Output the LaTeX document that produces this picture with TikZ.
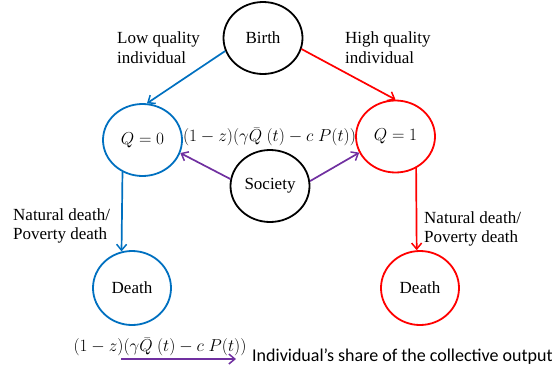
\documentclass[tikz,border=0pt]{standalone}
\usepackage{fontspec}
\setmainfont{Liberation Serif}
\newfontfamily\calib{Carlito}
\usetikzlibrary{shapes.geometric,arrows.meta}
\definecolor{cblue}{RGB}{0,112,192}
\definecolor{cred}{RGB}{255,0,0}
\definecolor{cpurple}{RGB}{112,48,160}
\begin{document}
\begin{tikzpicture}[x=1pt,y=-1pt,
  st/.style={ellipse,draw,line width=1.8pt,minimum width=79pt,minimum height=72pt,inner sep=0pt,font=\fontsize{17}{20}\selectfont},
  lab/.style={anchor=north west,align=left,inner sep=0pt,font=\fontsize{17}{20}\selectfont},
  conn/.style={line width=1.7pt,-{Straight Barb[length=6pt,width=10pt,line width=1.5pt]}},
  mth/.style={inner sep=0pt,font=\fontsize{17.5}{20}\selectfont}]
\useasboundingbox (0,0) rectangle (552,370);
\node[st,draw=black] (birth) at (263,38) {Birth};
\node[st,draw=cblue] (q0) at (142.5,140) {$Q=0$};
\node[st,draw=cred] (q1) at (395.5,136.5) {$Q=1$};
\node[st,draw=black] (soc) at (270,186) {Society};
\node[st,draw=cblue,minimum width=78pt,minimum height=74pt] (dl) at (132,288) {Death};
\node[st,draw=cred,minimum width=78pt,minimum height=74pt] (dr) at (420,288) {Death};
\node[lab] (lowq) at (117,32) {Low quality\\individual};
\node[lab] (highq) at (345,32) {High quality\\individual};
\node[lab] (nl) at (13,208) {Natural death/\\Poverty death};
\node[lab] (nr) at (424,211) {Natural death/\\Poverty death};
\node[mth] (mid) at (269.5,137) {$(1-z)(\gamma\bar{Q}\ (t)-c\;P(t))$};
\node[mth] (bot) at (160,347) {$(1-z)(\gamma\bar{Q}\ (t)-c\;P(t))$};
\node[anchor=west,inner sep=0pt,font=\calib\fontsize{18}{20}\selectfont] (share) at (252,357) {Individual’s share of the collective output};
\coordinate (a1) at (121,359);
\coordinate (a2) at (236,359);
\draw[conn,cblue] (birth.199) -- (q0.83);
\draw[conn,cred] (birth.344) -- (q1.90);
\draw[conn,cpurple] (soc.170) -- (q0.341);
\draw[conn,cpurple] (soc.7) -- (q1.204);
\draw[conn,cblue] (q0.238) -- (dl.106);
\draw[conn,cred] (q1.303) -- (dr.95);
\draw[conn,cpurple] (a1) -- (a2);
\end{tikzpicture}
\end{document}
